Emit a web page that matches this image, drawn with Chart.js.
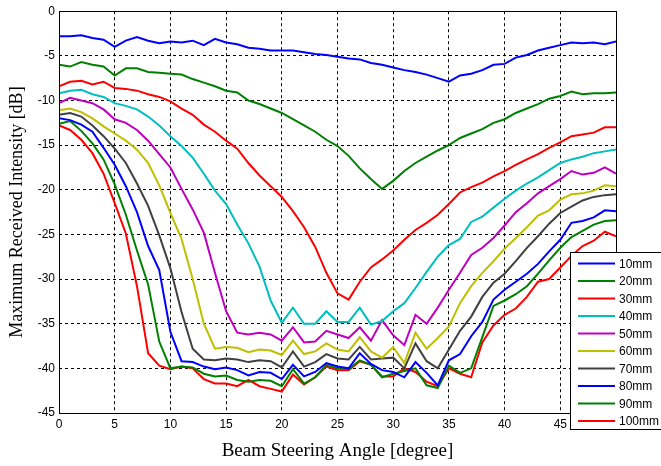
<!DOCTYPE html>
<html>
<head>
<meta charset="utf-8">
<script src="https://cdn.jsdelivr.net/npm/chart.js@4"></script>
<style>
  body { margin: 0; background: #fff; }
</style>
</head>
<body>
<canvas id="myChart" width="661" height="466"></canvas>
<script>
// angles in degree (x axis)
const angles = [0,1,2,3,4,5,6,7,8,9,10,11,12,13,14,15,16,17,18,19,20,21,22,23,24,25,
  26,27,28,29,30,31,32,33,34,35,36,37,38,39,40,41,42,43,44,45,46,47,48,49,50];

const seriesNames = ['10mm','20mm','30mm','40mm','50mm','60mm','70mm','80mm','90mm','100mm'];
const seriesColors = ['#0000ff','#008000','#ff0000','#00bfbf','#bf00bf','#bfbf00','#404040','#0000ff','#008000','#ff0000'];

// Maximum received intensity [dB]
const s10 = [-2.8,-2.8,-2.7,-3.0,-3.2,-4.0,-3.3,-2.9,-3.3,-3.6,-3.4,-3.5,-3.3,-3.8,-3.1,-3.5,-3.7,-4.1,-4.2,-4.4,-4.4,-4.4,-4.6,-4.8,-4.9,-5.1,
  -5.3,-5.4,-5.8,-6.0,-6.3,-6.6,-6.8,-7.1,-7.5,-7.9,-7.2,-7.0,-6.6,-6.0,-5.9,-5.2,-4.9,-4.4,-4.1,-3.8,-3.5,-3.6,-3.5,-3.7,-3.4];
const s20 = [-6.0,-6.2,-5.7,-6.0,-6.2,-7.2,-6.4,-6.4,-6.8,-6.9,-7.0,-7.1,-7.6,-8.0,-8.4,-8.9,-9.1,-10.0,-10.4,-10.9,-11.4,-12.1,-12.8,-13.5,-14.4,-15.1,
  -16.2,-17.6,-18.8,-19.9,-19.0,-17.9,-17.0,-16.3,-15.6,-15.0,-14.2,-13.7,-13.2,-12.5,-12.1,-11.4,-10.9,-10.4,-9.8,-9.5,-9.0,-9.3,-9.2,-9.2,-9.1];
const s30 = [-8.4,-7.9,-7.8,-8.2,-7.9,-8.6,-8.7,-8.9,-9.3,-9.6,-10.1,-10.9,-11.6,-12.7,-13.5,-14.5,-15.4,-17.0,-18.4,-19.6,-20.8,-22.4,-24.2,-26.4,-29.3,-31.6,
  -32.3,-30.3,-28.7,-27.8,-26.8,-25.6,-24.5,-23.7,-22.8,-21.6,-20.3,-19.7,-19.2,-18.5,-17.9,-17.2,-16.6,-16.0,-15.3,-14.7,-14.0,-13.8,-13.6,-13.0,-13.0];
const s40 = [-9.2,-8.9,-8.8,-9.3,-9.6,-10.3,-10.6,-11.0,-11.8,-12.8,-14.0,-15.1,-16.4,-18.2,-20.1,-21.6,-23.9,-26.0,-28.6,-32.4,-34.9,-33.2,-35.0,-35.0,-33.6,-34.8,
  -34.8,-33.2,-35.1,-34.7,-33.6,-32.7,-31.0,-29.2,-27.5,-26.2,-25.5,-23.6,-23.0,-22.0,-21.0,-20.1,-19.3,-18.6,-17.8,-17.0,-16.6,-16.3,-15.9,-15.7,-15.5];
const s50 = [-10.3,-9.7,-10.0,-10.3,-11.0,-12.1,-12.5,-13.3,-14.5,-16.0,-17.5,-19.9,-22.2,-24.8,-29.3,-33.6,-36.0,-36.2,-36.0,-36.2,-36.9,-35.4,-37.1,-37.0,-35.8,-36.2,
  -36.6,-35.4,-36.9,-34.6,-36.3,-37.4,-34.0,-35.0,-33.2,-31.2,-29.3,-27.3,-26.5,-25.4,-24.0,-22.5,-21.5,-20.4,-19.6,-18.8,-17.9,-18.3,-18.1,-17.5,-18.2];
const s60 = [-11.1,-10.9,-11.3,-12.0,-12.9,-13.7,-14.5,-15.5,-17.0,-19.5,-22.6,-25.5,-30.0,-35.0,-37.8,-37.6,-37.7,-38.2,-37.9,-38.0,-38.5,-36.9,-38.4,-38.1,-37.2,-37.9,
  -38.1,-36.5,-38.1,-38.8,-37.6,-39.4,-36.0,-37.8,-36.6,-35.3,-32.7,-30.8,-29.3,-28.0,-26.6,-25.4,-24.2,-22.9,-22.3,-21.1,-20.5,-20.4,-20.1,-19.5,-19.6];
const s70 = [-11.6,-11.4,-11.8,-12.8,-14.0,-15.4,-17.0,-19.3,-21.8,-25.1,-28.8,-33.7,-37.8,-39.0,-39.1,-38.9,-39.0,-39.3,-39.1,-39.2,-39.9,-38.1,-39.8,-39.3,-38.4,-38.9,
  -39.0,-37.6,-39.0,-38.9,-38.8,-40.0,-37.2,-39.2,-40.0,-37.9,-35.8,-34.2,-32.0,-30.4,-29.4,-28.0,-26.5,-25.2,-23.8,-22.6,-21.9,-21.2,-20.8,-20.6,-20.5];
const s80 = [-12.0,-12.2,-12.7,-13.5,-15.3,-17.2,-19.6,-22.5,-26.3,-29.0,-35.9,-39.2,-39.3,-39.8,-40.1,-39.9,-40.2,-40.8,-40.4,-40.5,-41.2,-39.6,-40.9,-40.4,-39.4,-39.8,
  -40.0,-38.3,-39.5,-40.2,-40.4,-41.0,-39.3,-40.5,-41.9,-39.1,-38.4,-36.4,-34.8,-32.3,-31.2,-30.3,-29.4,-28.3,-26.9,-25.6,-23.7,-23.5,-23.1,-22.3,-22.4];
const s90 = [-12.6,-12.3,-13.4,-14.8,-16.6,-19.4,-22.8,-26.8,-30.6,-37.0,-40.0,-39.8,-39.9,-40.6,-40.9,-40.8,-41.3,-41.5,-41.3,-41.4,-42.0,-40.1,-41.7,-41.0,-39.6,-40.0,
  -40.1,-39.1,-39.6,-41.0,-40.6,-40.3,-40.0,-41.9,-42.2,-39.7,-40.5,-40.0,-36.5,-33.0,-32.4,-31.7,-30.8,-29.4,-27.9,-26.5,-25.3,-24.6,-23.9,-23.5,-23.4];
const s100 = [-12.8,-13.3,-14.4,-15.9,-18.2,-21.5,-24.9,-30.8,-38.3,-39.7,-40.1,-39.8,-40.0,-41.2,-41.7,-41.7,-42.0,-41.3,-42.0,-42.3,-42.6,-40.7,-41.8,-41.0,-39.8,-40.2,
  -40.2,-39.2,-39.6,-40.9,-40.9,-40.0,-40.4,-41.5,-42.0,-40.0,-40.6,-41.0,-37.1,-35.2,-34.0,-33.3,-32.0,-30.3,-30.0,-28.7,-27.4,-26.3,-25.7,-24.7,-25.2];

const allSeries = [s10, s20, s30, s40, s50, s60, s70, s80, s90, s100];

const datasets = allSeries.map((vals, i) => ({
    label: seriesNames[i],
    data: vals.map((v, j) => ({ x: angles[j], y: v })),
    borderColor: seriesColors[i],
    backgroundColor: seriesColors[i],
    borderWidth: 2,
    pointRadius: 0,
    tension: 0,
    fill: false
}));

// box round the plot + legend drawn in the lower right corner
const framePlugin = {
    id: 'frame',
    afterDraw(chart) {
        const c = chart.ctx;
        const a = chart.chartArea;
        c.save();
        c.strokeStyle = '#000';
        c.lineWidth = 1;
        c.strokeRect(Math.round(a.left) + 0.5, Math.round(a.top) + 0.5,
            Math.round(a.right - a.left), Math.round(a.bottom - a.top));

        // legend
        const lx = 570.5, ly = 252.5, lw = 100, lh = 177;
        c.fillStyle = '#fff';
        c.fillRect(lx, ly, lw, lh);
        c.strokeRect(lx, ly, lw, lh);
        c.font = '12px "Liberation Sans", Arial, sans-serif';
        c.textBaseline = 'middle';
        c.textAlign = 'left';
        chart.data.datasets.forEach((ds, i) => {
            const y = 263.5 + i * 17.5;
            c.strokeStyle = ds.borderColor;
            c.lineWidth = 2;
            c.beginPath();
            c.moveTo(578, y);
            c.lineTo(615, y);
            c.stroke();
            c.fillStyle = '#000';
            c.fillText(ds.label, 619, y + 1);
        });
        c.restore();
    }
};

const ctx = document.getElementById('myChart').getContext('2d');
const myChart = new Chart(ctx, {
    type: 'line',
    data: { datasets: datasets },
    options: {
        responsive: false,
        animation: false,
        layout: { padding: { left: 6, top: 7, right: 45, bottom: 0 } },
        plugins: {
            legend: { display: false },
            tooltip: { enabled: false }
        },
        scales: {
            x: {
                type: 'linear',
                min: 0,
                max: 50,
                afterFit: (scale) => { scale.height = 53; },
                ticks: {
                    stepSize: 5,
                    color: '#000',
                    padding: 4,
                    maxRotation: 0,
                    font: { family: '"Liberation Sans", Arial, sans-serif', size: 12 }
                },
                grid: { color: '#000', lineWidth: 1, drawTicks: false },
                border: { display: false, dash: [3, 3] },
                title: {
                    display: true,
                    text: 'Beam Steering Angle [degree]',
                    color: '#000',
                    padding: { top: 0, bottom: 4 },
                    font: { family: '"Liberation Serif", "Times New Roman", serif', size: 19 }
                }
            },
            y: {
                min: -45,
                max: 0,
                afterFit: (scale) => { scale.width = 53; },
                ticks: {
                    stepSize: 5,
                    color: '#000',
                    padding: 4,
                    font: { family: '"Liberation Sans", Arial, sans-serif', size: 12 }
                },
                grid: { color: '#000', lineWidth: 1, drawTicks: false },
                border: { display: false, dash: [3, 3] },
                title: {
                    display: true,
                    text: 'Maximum Received Intensity [dB]',
                    color: '#000',
                    padding: { top: 0, bottom: 4 },
                    font: { family: '"Liberation Serif", "Times New Roman", serif', size: 18 }
                }
            }
        }
    },
    plugins: [framePlugin]
});
</script>
</body>
</html>
